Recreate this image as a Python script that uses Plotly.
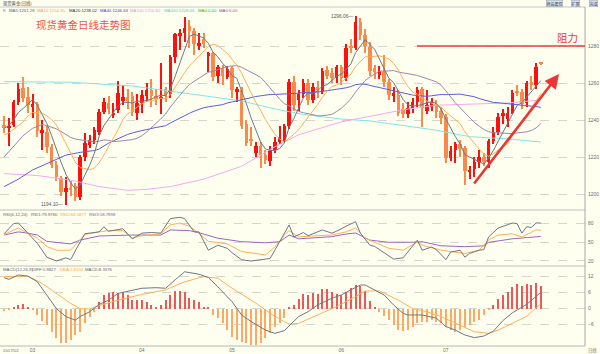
import plotly.graph_objects as go

# ---------------- data ----------------
opens = [1237.5, 1235.5, 1237.5, 1249.5, 1257.5, 1252.5, 1247.5, 1248.5, 1233, 1233.5,
         1225.5, 1215.5, 1208.5, 1201, 1203.5, 1204.5, 1198.5, 1220, 1226.5, 1229,
         1233.7, 1244.5, 1249, 1243, 1245.5, 1250.5, 1252.5, 1253, 1244, 1249,
         1253, 1256, 1253, 1251.5, 1257, 1254, 1274, 1285.5, 1287, 1291,
         1288, 1280.5, 1284, 1275, 1276, 1264, 1268, 1263.5, 1268, 1255.5,
         1256, 1238, 1230, 1222.4, 1226, 1221, 1218, 1224, 1228.3, 1230,
         1236.8, 1260.7, 1251, 1254, 1260, 1251, 1258, 1255.5, 1267, 1265.5,
         1262.5, 1268.8, 1262.5, 1279.5, 1279, 1293, 1286, 1279.6, 1268, 1264.5,
         1266, 1260.7, 1253.5, 1253.5, 1246, 1243, 1246.5, 1249.6, 1257, 1245,
         1247, 1248, 1245, 1241.8, 1219.3, 1224, 1227, 1225, 1212, 1213.5,
         1217.5, 1220, 1217.5, 1228.8, 1233.7, 1242, 1240.5, 1244, 1255.5, 1255,
         1249, 1260.5, 1259, 1270.8]
highs = [1242, 1241, 1251, 1260, 1263.5, 1258, 1254, 1250, 1240, 1237,
         1227, 1218, 1210, 1209, 1207, 1206, 1221, 1233, 1232, 1236,
         1246, 1252, 1253, 1249, 1261, 1259, 1257, 1255, 1254, 1256,
         1260, 1262, 1257, 1271, 1258, 1275, 1287, 1289, 1295.5, 1294,
         1289.5, 1287, 1287, 1277, 1277, 1270, 1270, 1269, 1269, 1258,
         1258, 1240, 1236, 1228, 1228, 1224, 1226, 1231, 1237, 1238,
         1262, 1264, 1256, 1262, 1262, 1260, 1261, 1268, 1269, 1268,
         1270, 1270, 1281, 1284, 1296.06, 1295, 1289, 1282, 1270, 1269,
         1275, 1262, 1258, 1256, 1249, 1250, 1252, 1258, 1258, 1256,
         1252, 1251, 1247, 1243, 1226, 1228, 1229, 1226, 1215, 1220,
         1224, 1222, 1230, 1236, 1244, 1246, 1247, 1256, 1259, 1257,
         1261, 1264, 1271, 1271.5]
lows = [1233, 1226, 1236, 1248, 1250, 1244, 1241, 1231, 1224, 1222,
        1214, 1207, 1199, 1194.1, 1199, 1196, 1197, 1218, 1225, 1227,
        1232, 1243, 1243, 1241, 1244, 1248, 1246, 1242, 1240, 1244,
        1250, 1247, 1248, 1243, 1250, 1252, 1271, 1278, 1282, 1279,
        1275, 1278, 1279, 1266, 1261, 1260, 1259, 1262, 1252, 1250,
        1235, 1226, 1226, 1220, 1214, 1216, 1215, 1222, 1227, 1228,
        1235, 1245, 1245, 1252, 1248, 1249, 1252, 1254, 1262, 1260,
        1260, 1259, 1261, 1276, 1278, 1283, 1276, 1264, 1262, 1262,
        1258, 1251, 1250, 1242, 1241, 1241, 1244, 1247, 1236.4, 1243,
        1245, 1241, 1238, 1217, 1218, 1217, 1220, 1205, 1208, 1209,
        1214, 1215, 1214, 1227, 1232, 1238, 1236, 1243, 1253, 1246,
        1247, 1256, 1257, 1269.5]
closes = [1235.5, 1237, 1249.5, 1257, 1252, 1248, 1248.5, 1234, 1234.5, 1225.5,
          1215.5, 1209, 1201, 1203, 1202, 1198.5, 1220, 1227.5, 1229, 1234.5,
          1244.5, 1249.5, 1246, 1244, 1254.5, 1252.5, 1250.5, 1244.5, 1249, 1253.5,
          1256, 1253, 1251.5, 1252.5, 1253, 1274, 1286.5, 1287, 1290, 1288,
          1281, 1281.5, 1281, 1276, 1263.5, 1268.5, 1264, 1267.5, 1256, 1256.5,
          1237, 1227.6, 1228.5, 1226, 1221.3, 1218.4, 1224, 1228, 1230.6, 1236.8,
          1260.7, 1248, 1254, 1260, 1251, 1258, 1256, 1266.7, 1264, 1262.5,
          1268.8, 1262.5, 1278.8, 1279, 1293, 1286, 1280, 1266.5, 1266, 1266.5,
          1260.5, 1253.5, 1254.5, 1243.8, 1243, 1246.5, 1249.6, 1256, 1246.5, 1248,
          1249.5, 1244.5, 1241, 1219.3, 1223, 1227, 1224.5, 1212.5, 1213, 1217.5,
          1220, 1217.5, 1228.8, 1233.7, 1241.8, 1244, 1244, 1254.8, 1254.8, 1248.7,
          1260.2, 1259, 1268.8, 1270.4]

ma5 = [1235.5, 1237, 1240, 1244, 1246.2, 1248.7, 1251, 1247.9, 1243.4, 1238.1,
       1231.6, 1223.7, 1217.1, 1210.8, 1206.1, 1202.7, 1204.9, 1210.2, 1215.4, 1221.9,
       1231.1, 1237, 1240.7, 1243.7, 1247.7, 1249.3, 1249.5, 1249.2, 1250.2, 1250,
       1250.7, 1251.2, 1252.6, 1253.3, 1253.2, 1256.8, 1263.5, 1270.6, 1278.1, 1285.1,
       1286.5, 1285.5, 1284.3, 1281.5, 1276.6, 1274.1, 1270.6, 1267.9, 1263.9, 1262.5,
       1256.2, 1248.9, 1241.1, 1235.1, 1228.1, 1224.4, 1223.6, 1223.5, 1224.5, 1227.6,
       1236, 1240.8, 1246, 1251.9, 1254.7, 1254.2, 1255.8, 1258.3, 1259.1, 1261.4,
       1263.6, 1264.9, 1267.3, 1270.3, 1276.4, 1279.9, 1283.4, 1280.9, 1278.3, 1273,
       1267.9, 1262.6, 1260.2, 1255.8, 1251.1, 1248.3, 1247.5, 1247.8, 1248.3, 1249.3,
       1249.9, 1248.9, 1245.9, 1240.5, 1235.5, 1231, 1227, 1221.3, 1220, 1218.9,
       1217.5, 1216.1, 1219.4, 1223.5, 1228.4, 1233.2, 1238.5, 1243.7, 1247.9, 1249.3,
       1252.5, 1255.5, 1258.3, 1261.3]
ma10 = [1232, 1233, 1235, 1237, 1239, 1242.1, 1244, 1244, 1243.7, 1242.2,
        1240.2, 1237.4, 1232.5, 1227.1, 1222.1, 1217.2, 1214.3, 1213.7, 1213.1, 1214,
        1216.9, 1221, 1225.5, 1229.6, 1234.8, 1240.2, 1243.3, 1245, 1247, 1248.9,
        1250, 1250.4, 1250.9, 1251.8, 1251.6, 1253.8, 1257.4, 1261.6, 1265.7, 1269.2,
        1271.7, 1274.5, 1277.5, 1279.8, 1280.9, 1280.3, 1278.1, 1276.1, 1272.7, 1269.6,
        1265.2, 1259.8, 1254.5, 1249.5, 1245.3, 1240.3, 1236.3, 1232.3, 1229.8, 1227.9,
        1230.2, 1232.2, 1234.8, 1238.2, 1241.2, 1245.1, 1248.3, 1252.2, 1255.5, 1258.1,
        1258.9, 1260.4, 1262.8, 1264.7, 1268.9, 1271.8, 1274.2, 1274.1, 1274.3, 1274.7,
        1273.9, 1273, 1270.6, 1267.1, 1262.1, 1258.1, 1255.1, 1254, 1252.1, 1250.2,
        1249.1, 1248.2, 1246.9, 1244.4, 1242.4, 1240.5, 1238, 1233.6, 1230.3, 1227.2,
        1224.3, 1221.6, 1220.4, 1221.8, 1223.7, 1225.4, 1227.3, 1231.6, 1235.7, 1238.9,
        1242.9, 1247, 1251, 1254.4]
ma20 = [1220, 1223, 1226, 1229, 1231.5, 1233.5, 1235.5, 1236.5, 1237.5, 1237,
        1236.1, 1235.2, 1233.8, 1232.1, 1230.6, 1229.7, 1229.2, 1228.9, 1228.4, 1228.1,
        1228.6, 1229.2, 1229, 1228.4, 1228.5, 1228.7, 1228.8, 1229.4, 1230.1, 1231.5,
        1233.5, 1235.7, 1238.2, 1240.7, 1243.2, 1247, 1250.4, 1253.3, 1256.4, 1259.1,
        1260.9, 1262.5, 1264.2, 1265.8, 1266.3, 1267.1, 1267.8, 1268.9, 1269.2, 1269.4,
        1268.5, 1267.2, 1266, 1264.7, 1263.1, 1260.3, 1257.2, 1254.2, 1251.3, 1248.8,
        1247.7, 1246, 1244.7, 1243.9, 1243.3, 1242.7, 1242.3, 1242.3, 1242.7, 1243,
        1244.6, 1246.3, 1248.8, 1251.5, 1255.1, 1258.5, 1261.3, 1263.2, 1264.9, 1266.4,
        1266.4, 1266.7, 1266.7, 1265.9, 1265.5, 1265, 1264.7, 1264.1, 1263.2, 1262.5,
        1261.5, 1260.6, 1258.8, 1255.8, 1252.3, 1249.3, 1246.6, 1243.8, 1241.2, 1238.7,
        1236.7, 1234.9, 1233.7, 1233.1, 1233.1, 1233, 1232.7, 1232.6, 1233, 1233.1,
        1233.6, 1234.3, 1235.7, 1238]
ma40_x = [0, 3, 6, 10, 13, 16, 19] + list(range(20, 114))
ma40_y = [1204, 1208, 1213, 1217.5, 1221, 1222.5, 1223.5,
          1224.3, 1226.1, 1227.5, 1228.7, 1230, 1231.1, 1232.2, 1233, 1233.8, 1234.3,
          1234.8, 1235.5, 1236, 1236.4, 1236.9, 1238.4, 1239.8, 1241.1, 1242.4, 1243.6,
          1244.8, 1245.9, 1246.6, 1247.1, 1247.4, 1247.9, 1248.3, 1249.2, 1249.7, 1250.5,
          1251, 1251.5, 1252.1, 1252.7, 1253.2, 1253.7, 1253.8, 1253.8, 1253.9, 1254,
          1254.3, 1254.3, 1254.5, 1254.9, 1254.8, 1254.9, 1255.1, 1255.6, 1256, 1256.2,
          1256.6, 1256.8, 1257.4, 1258.1, 1259.1, 1259.4, 1259.3, 1258.7, 1258.1, 1257.6,
          1257.1, 1256.4, 1255.7, 1254.9, 1254.4, 1253.9, 1253.5, 1253.2, 1253, 1252.8,
          1253.1, 1253.5, 1253.8, 1253.7, 1253.7, 1253.9, 1254, 1253.5, 1253.1, 1252.6,
          1251.6, 1250.8, 1250.2, 1249.5, 1249.3, 1249, 1248.7, 1248.4, 1248.1, 1247.8,
          1247.6, 1247.5, 1247.3, 1246.8]
ma100_x = [0, 7, 14, 20, 26, 30, 35, 42, 50, 57, 62, 71, 77, 84, 91, 100, 106, 113]
ma100_y = [1211, 1210, 1207.5, 1204, 1202, 1202.5, 1204, 1208, 1215, 1225.5, 1232,
           1239, 1242, 1245.5, 1248, 1248.6, 1249.2, 1250.8]
ma200_x = [0, 14, 27, 35, 42, 50, 57, 63, 71, 77, 84, 91, 98, 106, 113]
ma200_y = [1260.7, 1260.4, 1258.4, 1255.5, 1253, 1250.3, 1246, 1243, 1240.5, 1239.5,
           1237, 1234.5, 1231, 1229.8, 1228.1]

rsi1_x = [0, 2, 3, 5, 7, 9, 10, 11, 13, 14, 16, 17, 20, 21, 22, 24, 25, 27, 28, 29,
          31, 33, 35, 37, 38, 40, 41, 43, 45, 47, 48, 50, 52, 54, 56, 57, 60, 61, 63, 64,
          67, 69, 70, 72, 74, 75, 77, 78, 81, 82, 84, 87, 88, 90, 91, 93, 94, 96, 97, 98,
          100, 101, 102, 104, 107, 108, 109, 110, 111, 112, 113]
rsi1_y = [63, 79, 80, 64, 48, 26, 23, 20, 25, 22, 50, 63, 66, 74, 67, 70, 71, 55, 60, 64,
          65, 64, 87, 89, 87, 66, 66, 37, 45, 40, 33, 22, 20, 22, 24, 37, 77, 58, 65, 60,
          69, 64, 67, 75, 82, 64, 45, 43, 27, 23, 25, 53, 37, 42, 38, 22, 34, 37, 26, 32,
          37, 38, 58, 72, 80, 79, 64, 74, 73, 80, 80]
rsi2_x = [0, 3, 5, 7, 9, 11, 14, 16, 17, 20, 22, 25, 27, 29, 33, 35, 37, 39, 41, 43,
          47, 50, 55, 57, 59, 60, 62, 65, 69, 72, 74, 76, 78, 81, 84, 87, 88, 92, 97, 100,
          102, 104, 107, 109, 112, 113]
rsi2_y = [62, 72, 64, 56, 43, 37, 37, 53, 62, 66, 68, 68, 56, 60, 63, 77, 80, 75, 64, 51,
          47, 35, 29.5, 42, 61, 68, 58, 59.5, 61, 66, 72, 56, 50, 40, 37, 50, 45, 37, 32, 37,
          53, 61, 63, 58, 69, 68.6]
rsi3_x = [0, 3, 5, 7, 9, 12, 14, 16, 20, 27, 33, 35, 39, 41, 45, 50, 55, 58, 60, 62,
          69, 72, 74, 77, 81, 86, 88, 92, 97, 101, 102, 107, 109, 113]
rsi3_y = [61, 66, 64, 61, 51, 49, 47, 53, 59.5, 61, 61, 69, 68, 64.7, 56, 50.5, 48.8, 50.5, 61, 55,
          58.4, 62.6, 64.2, 53, 49.6, 49.6, 50.5, 44, 42.6, 44, 49.5, 55, 56, 58.8]

diff_x = [0, 1, 3, 5, 7, 9, 11, 13, 15, 16, 18, 20, 22, 24, 27, 29, 32, 34, 36, 38,
          41, 43, 45, 48, 50, 52, 55, 57, 59, 60, 62, 64, 66, 69, 71, 73, 75, 76, 78, 80,
          82, 84, 85, 88, 89, 91, 93, 95, 97, 99, 101, 103, 105, 107, 110, 112, 113]
diff_y = [11.4, 10.8, 12.4, 12, 9.9, 5, 0, -3, -4.3, -3, -1.2, 1.5, 3.1, 5.6, 6.9, 7.5, 7.7, 7.5, 10.6, 13.6,
          12.7, 11.5, 8, 2.5, -2.4, -4.8, -8, -9.2, -8.2, -6.5, -3, -1.2, 1.3, 3.8, 5, 6.9, 8.7, 8.7, 6.9, 5,
          1.3, -1.8, -2.4, -2.4, -2.8, -3.6, -6.7, -8, -9.8, -10.8, -10.2, -8.4, -4.5, -1.6, 1.5, 4.6, 6.0]
dea_x = [0, 5, 8, 11, 14, 16, 18, 20, 24, 29, 34, 38, 42, 45, 48, 53, 56, 59, 60, 62,
         66, 70, 74, 76, 79, 83, 86, 89, 92, 96, 99, 102, 104, 107, 110, 112, 113]
dea_y = [11.8, 12, 9.3, 5.6, 1.9, 0, -0.2, 1.1, 3.1, 5.2, 6.9, 9.9, 11.8, 11.2, 7.5, 2.0, -1.8, -4.9, -5.8, -5.5,
         -2.4, 0.7, 4.4, 6.5, 6.5, 3.1, 0, -1.2, -3, -6.1, -8.6, -9.2, -8, -5.5, -2.9, 0.2, 1.8]
macd_hist = [-0.8, -0.5, 0.3, 1.3, 1.5, 0.5, -0.6, -2.4, -4.5, -6.1,
             -8.6, -11, -12.9, -12.9, -11.7, -9.8, -8.6, -5.5, -3, -1.2,
             2.5, 5, 5.6, 6.2, 5.6, 6.2, 5, 3.1, 3.1, 3.1,
             2.5, 1.3, 0.6, 1.3, 3.1, 5, 6.5, 6.5, 6, 4,
             3.1, 2.5, 0.3, 0.3, -2.4, -3.6, -5.5, -8, -10.4, -11.7,
             -12.3, -12.9, -13.5, -13.5, -12.9, -11, -9, -7, -5.5, -3.6,
             0.3, 1.3, 3.7, 5.2, 5, 5.6, 5.2, 7.4, 7.4, 6.2,
             5.2, 5, 6.2, 7.6, 8.6, 8.2, 6.5, 2.8, 0.4, -1.2,
             -2.7, -4.3, -6.1, -8, -8.3, -8, -6.8, -5.5, -4.9, -4.9,
             -4.3, -4.9, -5.5, -6.8, -8, -8.6, -8, -6.8, -6.1, -4.9,
             -4.3, -2.4, -0.6, 1.3, 3.7, 5, 6.2, 7.8, 8.9, 8.4,
             8.9, 8.6, 9.4, 8.3]

month_ticks = [6, 29, 48, 71, 93]
month_labels = ["03", "04", "05", "06", "07"]
price_ticks = [1200, 1220, 1240, 1260, 1280]
rsi_ticks = [20, 50, 80]
macd_ticks = [-6, 0, 6, 12]

# ---------------- styling ----------------
W, H = 600, 354
ML, MR, MT, MB = 0, 15, 0, 8
PW, PH = W - ML - MR, H - MT - MB
BG = "#fffff0"
UP = "#ff1010"
DOWN = "#f98a4c"
GRID = "#d6d6cc"
AX = "#a8a8a8"
TXT = "#6e6e6e"
FONT = "Liberation Sans"
CJK = "Noto Sans CJK SC"
HS = 4.3   # header font size


def px(xp, yp):
    return xp / PW, (PH - yp) / PH


def dom(ytop, ybot):
    return [(PH - ybot) / PH, (PH - ytop) / PH]


idx = list(range(len(closes)))
is_up = [c >= o for o, c in zip(opens, closes)]
ccol = [UP if u else DOWN for u in is_up]
body_base = [min(o, c) for o, c in zip(opens, closes)]
body_h = [max(abs(c - o), 0.45) for o, c in zip(opens, closes)]
wick_h = [h - l for h, l in zip(highs, lows)]
hist_col = ["#f25555" if v >= 0 else "#ffa866" for v in macd_hist]

fig = go.Figure()

fig.add_trace(go.Bar(x=idx, y=wick_h, base=lows, width=0.2, marker=dict(color=ccol, line_width=0),
                     yaxis="y", hoverinfo="skip"))
fig.add_trace(go.Bar(x=idx, y=body_h, base=body_base, width=0.72, marker=dict(color=ccol, line_width=0),
                     yaxis="y", hoverinfo="skip"))

lw = 1
fig.add_trace(go.Scatter(x=ma200_x, y=ma200_y, mode="lines", line=dict(color="#7fe6e6", width=lw), yaxis="y"))
fig.add_trace(go.Scatter(x=ma100_x, y=ma100_y, mode="lines", line=dict(color="#f6aaee", width=lw), yaxis="y"))
fig.add_trace(go.Scatter(x=ma40_x, y=ma40_y, mode="lines", line=dict(color="#5c5ce0", width=lw), yaxis="y"))
fig.add_trace(go.Scatter(x=idx, y=ma20, mode="lines", line=dict(color="#9a88ac", width=lw), yaxis="y"))
fig.add_trace(go.Scatter(x=idx, y=ma10, mode="lines", line=dict(color="#ffae5a", width=lw), yaxis="y"))
fig.add_trace(go.Scatter(x=idx, y=ma5, mode="lines", line=dict(color="#6c7884", width=lw), yaxis="y"))

# RSI
fig.add_trace(go.Scatter(x=rsi3_x, y=rsi3_y, mode="lines", line=dict(color="#9a66c8", width=1), yaxis="y2"))
fig.add_trace(go.Scatter(x=rsi2_x, y=rsi2_y, mode="lines", line=dict(color="#ffae5a", width=1), yaxis="y2"))
fig.add_trace(go.Scatter(x=rsi1_x, y=rsi1_y, mode="lines", line=dict(color="#6c7884", width=1), yaxis="y2"))

# MACD
fig.add_trace(go.Bar(x=idx, y=macd_hist, width=0.19, marker=dict(color=hist_col, line_width=0), yaxis="y3"))
fig.add_trace(go.Scatter(x=dea_x, y=dea_y, mode="lines", line=dict(color="#ffae5a", width=1), yaxis="y3"))
fig.add_trace(go.Scatter(x=diff_x, y=diff_y, mode="lines", line=dict(color="#6c7884", width=1), yaxis="y3"))

# ---------------- axes ----------------
xr = [-4.1 / 4.75, (PW - 4.1) / 4.75]
main_top, main_bot = 7, 210
rsi_top, rsi_bot = 210, 266
macd_top, macd_bot = 266, 346


def price_at(yp):
    return 1200 + (194 - yp) / 1.85


def rsi_at(yp):
    return 50 + (242 - yp) / 0.633


def macd_at(yp):
    return (308.5 - yp) / 2.7


yax_common = dict(side="right", anchor="x", showline=False, zeroline=False, ticks="",
                  tickfont=dict(family=FONT, size=5, color=TXT), gridcolor=GRID, griddash="dash",
                  gridwidth=0.6, fixedrange=True, ticklabelstandoff=2)

fig.update_layout(
    width=W, height=H, margin=dict(l=ML, r=MR, t=MT, b=MB),
    paper_bgcolor=BG, plot_bgcolor=BG, showlegend=False, barmode="overlay", bargap=0,
    xaxis=dict(range=xr, anchor="y3", tickvals=month_ticks, ticktext=month_labels, showgrid=False,
               zeroline=False, showline=False, ticks="", tickfont=dict(family=FONT, size=5, color=TXT),
               ticklabelstandoff=0),
    yaxis=dict(domain=dom(main_top, main_bot), range=[price_at(main_bot), price_at(main_top)],
               tickvals=price_ticks, **yax_common),
    yaxis2=dict(domain=dom(rsi_top, rsi_bot), range=[rsi_at(rsi_bot), rsi_at(rsi_top)],
                tickvals=rsi_ticks, **yax_common),
    yaxis3=dict(domain=dom(macd_top, macd_bot), range=[macd_at(macd_bot), macd_at(macd_top)],
                tickvals=macd_ticks, **yax_common),
)

# ---------------- frame lines ----------------
shapes = []
for yp, col in [(7, "#c8c8c8"), (210, "#c0c0c0"), (266, "#c0c0c0"), (346, "#b8b8b8")]:
    _, y0 = px(0, yp)
    shapes.append(dict(type="line", xref="paper", yref="paper", x0=0, x1=1, y0=y0, y1=y0,
                       line=dict(color=col, width=1)))
_, yt = px(0, 7)
_, yb = px(0, 346)
shapes.append(dict(type="line", xref="paper", yref="paper", x0=1, x1=1, y0=yb, y1=yt,
                   line=dict(color=AX, width=1)))
# resistance line
shapes.append(dict(type="line", xref="x", yref="y", x0=(417 - 4.1) / 4.75, x1=xr[1], y0=1280, y1=1280,
                   line=dict(color="#ee3a36", width=1.5)))
fig.update_layout(shapes=shapes)

# ---------------- annotations ----------------
ann = []


def text(xp, yp, s, size=HS, color=TXT, anchor="left", family=FONT, **kw):
    x, y = px(xp, yp)
    ann.append(dict(xref="paper", yref="paper", x=x, y=y, text=s, showarrow=False, xanchor=anchor,
                    yanchor="middle", font=dict(family=family, size=size, color=color), **kw))


text(1, 3.5, "现货黄金(日线)", size=HS, color="#444", family=CJK)
for xp, s, c in [(1, "K", "#777"), (7, "MA5:1261.28", "#5c6670"), (35, "MA10:1254.35", "#ff9c3c"),
                 (67, "MA20:1238.02", "#333333"), (98, "MA40:1246.63", "#4040d8"),
                 (128, "MA100:1250.82", "#f08ae6"), (162, "MA200:1228.06", "#40d0d0"),
                 (196, "MA0:0.00", "#22bb22"), (217, "MA0:0.00", "#a040c0")]:
    text(xp, 10.5, s, color=c)
for xc, s in [(554.5, "商品属性"), (575.5, "扩展"), (593, "完成")]:
    text(xc, 3.5, s, size=4.0, color="#335", anchor="center", family=CJK, bgcolor="#d8e2ec",
         bordercolor="#9aa6b4", borderwidth=0.5, borderpad=0)

for xp, s, c in [(1, "RSI(6,12,24)", "#666"), (29, "RSI1:79.9780", "#5c6670"),
                 (58, "RSI2:68.5877", "#ff9c3c"), (87, "RSI3:58.7898", "#8a50c0")]:
    text(xp, 214.5, s, color=c)
for xp, s, c in [(1, "MACD(12,26,9)", "#666"), (30, "DIFF:5.9827", "#5c6670"),
                 (58, "DEA:1.8150", "#ff9c3c"), (83, "MACD:8.3376", "#666")]:
    text(xp, 269.5, s, color=c)

text(1, 350.5, "2017/02", color=TXT)
text(592, 350.5, "日线", color=TXT, anchor="center", family=CJK)

# title / resistance label
text(34, 25, "现货黄金日线走势图", size=10.5, color="#f0524c", family=CJK)
text(567, 37.5, "阻力", size=10.5, color="#ea3c36", anchor="center", family=CJK)

# high / low labels
ann.append(dict(xref="x", yref="y", x=74, y=1296.06, text="1296.06—", showarrow=False, xanchor="right",
                yanchor="middle", xshift=-1, font=dict(family=FONT, size=4.8, color="#555")))
ann.append(dict(xref="x", yref="y", x=13, y=1194.1, text="1194.10—", showarrow=False, xanchor="right",
                yanchor="middle", xshift=-1, font=dict(family=FONT, size=4.8, color="#555")))

# trend arrow
ann.append(dict(xref="x", yref="y", axref="x", ayref="y", x=(559 - 4.1) / 4.75, y=price_at(74),
                ax=(473 - 4.1) / 4.75, ay=price_at(185), text="", showarrow=True, arrowhead=2,
                arrowsize=1.1, arrowwidth=2.6, arrowcolor="#ee3434", standoff=0))

fig.update_layout(annotations=ann)

fig.write_html("out.html")
